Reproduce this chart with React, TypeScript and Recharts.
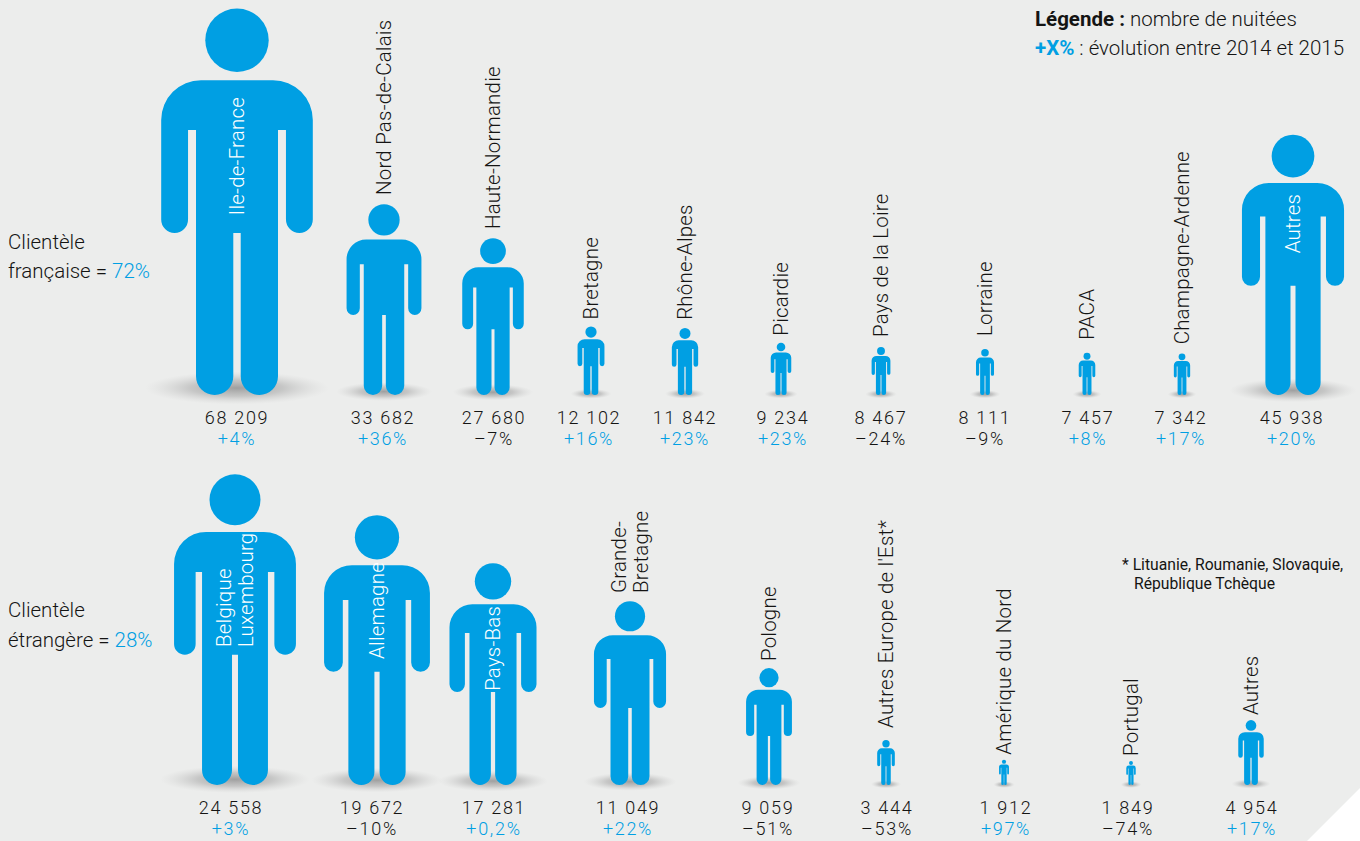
import { BarChart, Bar, XAxis, YAxis, LabelList } from "recharts";

const BLUE = "#009fe3";
const INK = "#141413";
const FONT = "Roboto, sans-serif";

// clientèle française
const frRegions = ["Ile-de-France", "Nord Pas-de-Calais", "Haute-Normandie", "Bretagne", "Rhône-Alpes", "Picardie", "Pays de la Loire", "Lorraine", "PACA", "Champagne-Ardenne", "Autres"];
const frNuitees = [68209, 33682, 27680, 12102, 11842, 9234, 8467, 8111, 7457, 7342, 45938];
const frEvolution = ["+4%", "+36%", "–7%", "+16%", "+23%", "+23%", "–24%", "–9%", "+8%", "+17%", "+20%"];

// clientèle étrangère
const etRegions = ["Belgique\nLuxembourg", "Allemagne", "Pays-Bas", "Grande-\nBretagne", "Pologne", "Autres Europe de l'Est*", "Amérique du Nord", "Portugal", "Autres"];
const etNuitees = [24558, 19672, 17281, 11049, 9059, 3444, 1912, 1849, 4954];
// the figures in this row are not quite to scale, so this is the size as drawn
const etTaille = [24558, 21330, 17535, 14530, 9240, 3555, 2000, 1900, 5130];
const etEvolution = ["+3%", "–10%", "+0,2%", "+22%", "–51%", "–53%", "+97%", "–74%", "+17%"];

// layout: where each figure stands on the x axis, tick text nudges, label starts
const frSlots = [237, 384, 493, 591, 685, 781, 881, 985, 1087, 1182, 1293];
const etSlots = [235, 377, 493, 630, 769, 886, 1004, 1131, 1251];
const frNudge = [0, -1, 1, -2, 0, 2, 0, 0, 1, -1, -1];
const etNudge = [-4, -5, 1, -2, -1, 1, 2, -3, 1];
const frGap = [0, 9, 9, 7, 8, 7, 10, 13, 13, 9, 0];
const etGap = [0, 0, 0, 8, 7, 12, 5, 5, 5];
const frInside: Record<number, number> = { 0: 0.535, 10: 0.456 };
const etInside: Record<number, number> = { 0: 0.556, 1: 0.533, 2: 0.576 };

const frData = frRegions.map((region, i) => ({ region, slot: frSlots[i], taille: frNuitees[i] }));
const etData = etRegions.map((region, i) => ({ region, slot: etSlots[i], taille: etTaille[i] }));

const formatNuitees = (v: number) => String(v).replace(/\B(?=(\d{3})+$)/g, " ");

const Person = ({ x, y, width, height }: any) => {
  const cx = x + width / 2;
  const H = height;
  const hw = 0.196 * H;
  const gapOut = 0.1266 * H;
  const gapIn = 0.106 * H;
  const legGap = 0.0096 * H;
  const bodyTop = y + 0.186 * H;
  const gapTop = y + 0.315 * H;
  const crotch = y + 0.581 * H;
  const bottom = y + H;
  const r = 0.103 * H;
  const ar = (hw - gapOut) / 2;
  const lr = (gapIn - legGap) / 2;
  const d = [
    `M${cx - hw} ${crotch - ar}`,
    `V${bodyTop + r}`,
    `A${r} ${r} 0 0 1 ${cx - hw + r} ${bodyTop}`,
    `H${cx + hw - r}`,
    `A${r} ${r} 0 0 1 ${cx + hw} ${bodyTop + r}`,
    `V${crotch - ar}`,
    `A${ar} ${ar} 0 0 1 ${cx + gapOut} ${crotch - ar}`,
    `V${gapTop}`,
    `H${cx + gapIn}`,
    `V${bottom - lr}`,
    `A${lr} ${lr} 0 0 1 ${cx + legGap} ${bottom - lr}`,
    `V${crotch}`,
    `H${cx - legGap}`,
    `V${bottom - lr}`,
    `A${lr} ${lr} 0 0 1 ${cx - gapIn} ${bottom - lr}`,
    `V${gapTop}`,
    `H${cx - gapOut}`,
    `V${crotch - ar}`,
    `A${ar} ${ar} 0 0 1 ${cx - hw} ${crotch - ar}`,
    "Z",
  ].join(" ");
  return (
    <g>
      <ellipse cx={cx} cy={bottom - 0.018 * H} rx={0.225 * H + 5} ry={0.036 * H + 2.5} fill="url(#ombre)" />
      <circle cx={cx} cy={y + 0.0827 * H} r={0.082 * H} fill={BLUE} />
      <path d={d} fill={BLUE} />
    </g>
  );
};

const regionLabel = (inside: Record<number, number>, gaps: number[]) => ({ x, y, width, height, value, index }: any) => {
  const cx = x + width / 2;
  const start = inside[index];
  const isInside = start !== undefined;
  const anchorY = isInside ? y + start * height : y - gaps[index];
  const lines = String(value).split("\n");
  const spacing = 22;
  return (
    <g>
      {lines.map((line, i) => (
        <text
          key={line}
          transform={`translate(${cx + (i - (lines.length - 1) / 2) * spacing},${anchorY}) rotate(-90)`}
          dy=".35em"
          fontFamily={FONT}
          fontWeight={300}
          fontSize={20.5}
          letterSpacing={0.2}
          fill={isInside ? "#fff" : INK}
        >
          {line}
        </text>
      ))}
    </g>
  );
};

const valueTick = (nuitees: number[], evolution: string[], nudge: number[]) => ({ x, y, index }: any) => {
  const evo = evolution[index];
  return (
    <g transform={`translate(${x + nudge[index]},${y})`} fontFamily={FONT} fontWeight={300} fontSize={18} letterSpacing={1.7} textAnchor="middle">
      <text y={22.5} fill={INK}>{formatNuitees(nuitees[index])}</text>
      <text y={44} fill={evo.startsWith("+") ? BLUE : INK}>{evo}</text>
    </g>
  );
};

const Row = ({ data, slots, plotHeight, maxValue, top, nuitees, evolution, nudge, inside, gaps }: any) => (
  <div style={{ position: "absolute", left: 0, top }}>
    <BarChart width={1360} height={plotHeight + 56} data={data} margin={{ top: 0, right: 0, bottom: 0, left: 0 }}>
      <defs>
        <radialGradient id="ombre">
          <stop offset="0%" stopColor="#8c8c8c" stopOpacity={0.8} />
          <stop offset="50%" stopColor="#a0a0a0" stopOpacity={0.5} />
          <stop offset="100%" stopColor="#c8c8c8" stopOpacity={0} />
        </radialGradient>
      </defs>
      <XAxis
        dataKey="slot"
        type="number"
        domain={[0, 1360]}
        ticks={slots}
        interval={0}
        height={56}
        axisLine={false}
        tickLine={false}
        tickMargin={0}
        tick={valueTick(nuitees, evolution, nudge)}
      />
      <YAxis hide type="number" domain={[0, maxValue]} />
      <Bar dataKey="taille" barSize={2} shape={Person} isAnimationActive={false}>
        <LabelList dataKey="region" content={regionLabel(inside, gaps)} />
      </Bar>
    </BarChart>
  </div>
);

const sideText = { position: "absolute", fontFamily: FONT, fontWeight: 300, fontSize: 20.5, color: INK, whiteSpace: "nowrap", lineHeight: "24px" } as const;

export default function App() {
  return (
    <div style={{ position: "absolute", left: 0, top: 0, width: 1360, height: 841, overflow: "hidden" }}>
      <style>{"body{margin:0}"}</style>
      <div style={{ position: "absolute", inset: 0, background: "#ecedec", clipPath: "polygon(0 0,1360px 0,1360px 788px,1307px 841px,0 841px)" }} />
      <div style={{ ...sideText, left: 8, top: 230 }}>Clientèle</div>
      <div style={{ ...sideText, left: 8, top: 259 }}>française = <span style={{ color: BLUE }}>72%</span></div>
      <div style={{ ...sideText, left: 8, top: 598 }}>Clientèle</div>
      <div style={{ ...sideText, left: 8, top: 628 }}>étrangère = <span style={{ color: BLUE }}>28%</span></div>
      <div style={{ ...sideText, left: 1035, top: 7 }}><b style={{ fontWeight: 700 }}>Légende :</b> nombre de nuitées</div>
      <div style={{ ...sideText, left: 1035, top: 36 }}><b style={{ fontWeight: 700, color: BLUE }}>+X%</b> : évolution entre 2014 et 2015</div>
      <div style={{ ...sideText, left: 1122, top: 553, fontSize: 15.7, fontWeight: 400 }}>* Lituanie, Roumanie, Slovaquie,</div>
      <div style={{ ...sideText, left: 1134, top: 572, fontSize: 15.7, fontWeight: 400 }}>République Tchèque</div>
      <Row data={frData} slots={frSlots} plotHeight={395} maxValue={69665} top={0} nuitees={frNuitees} evolution={frEvolution} nudge={frNudge} inside={frInside} gaps={frGap} />
      <Row data={etData} slots={etSlots} plotHeight={334} maxValue={26382} top={451} nuitees={etNuitees} evolution={etEvolution} nudge={etNudge} inside={etInside} gaps={etGap} />
    </div>
  );
}
